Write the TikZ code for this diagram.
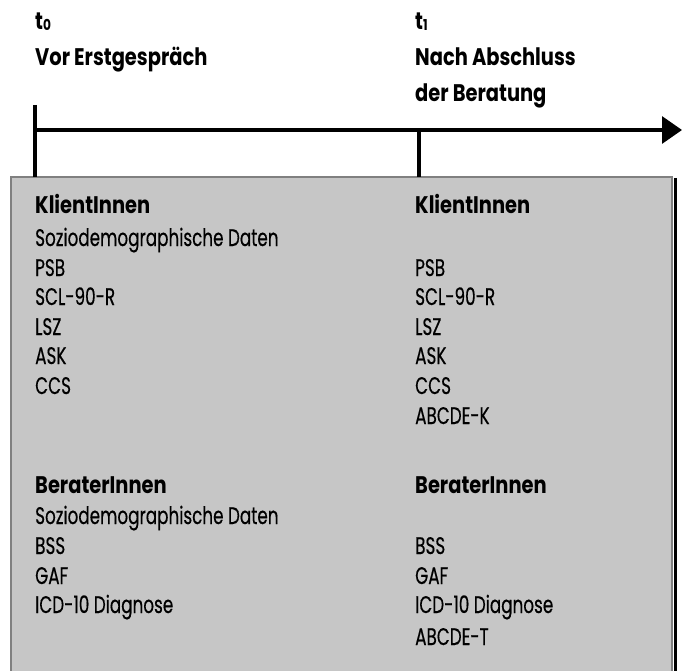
\documentclass[tikz,border=0pt]{standalone}
\usepackage{fontspec}
\setmainfont[FakeStretch=0.70, FakeBold=0.4, BoldFeatures={FakeStretch=0.81, FakeBold=0}]{Poppins}
\usetikzlibrary{arrows.meta}
\definecolor{boxfill}{HTML}{C6C6C6}
\definecolor{boxline}{HTML}{808080}
\tikzset{
  txt/.style={anchor=base west, inner sep=0pt, font=\fontsize{24}{24}\selectfont},
  head/.style={txt, font=\fontsize{24}{24}\selectfont\bfseries},
  axis/.style={line width=3.2pt},
}
\newcommand{\tsub}[1]{t\raisebox{-0.5pt}{\fontsize{15}{15}\selectfont #1}}
\begin{document}
\begin{tikzpicture}[x=1pt,y=-1pt]
\useasboundingbox (0,0) rectangle (682,671);
\clip (0,0) rectangle (682,671);
% box with shadow
\draw[line width=3pt] (675.5,178) -- (675.5,690);
\draw[fill=boxfill, draw=boxline, line width=2pt] (11,177) rectangle (672,690);
% timeline
\coordinate (a0) at (35,105);
\coordinate (a1) at (35,177);
\coordinate (h0) at (35,130);
\coordinate (h1) at (682,130);
\coordinate (b0) at (419,130);
\coordinate (b1) at (419,177);
\draw[axis] (a0) -- (a1);
\draw[axis] (b0) -- (b1);
\draw[axis, -{Triangle[length=20pt,width=27pt]}] (h0) -- (h1);
% top labels
\node[head] (t0) at (35,30) {\tsub{0}};
\node[head] (t0l) at (35,66) {Vor Erstgespräch};
\node[head] (t1) at (415,30) {\tsub{1}};
\node[head] (t1l) at (415,66) {Nach Abschluss};
\node[head] (t1m) at (415,102) {der Beratung};
% left column
\node[head] (lk) at (35,213) {KlientInnen};
\node[txt] (ls1) at (35,246) {Soziodemographische Daten};
\node[txt] (lpsb) at (35,276) {PSB};
\node[txt] (lscl) at (35,305) {SCL-90-R};
\node[txt] (llsz) at (35,335) {LSZ};
\node[txt] (lask) at (35,364) {ASK};
\node[txt] (lccs) at (35,394) {CCS};
\node[head] (lb) at (35,493) {BeraterInnen};
\node[txt] (ls2) at (35,524) {Soziodemographische Daten};
\node[txt] (lbss) at (35,554) {BSS};
\node[txt] (lgaf) at (35,584) {GAF};
\node[txt] (licd) at (35,613) {ICD-10 Diagnose};
% right column
\node[head] (rk) at (415,213) {KlientInnen};
\node[txt] (rpsb) at (415,276) {PSB};
\node[txt] (rscl) at (415,305) {SCL-90-R};
\node[txt] (rlsz) at (415,335) {LSZ};
\node[txt] (rask) at (415,364) {ASK};
\node[txt] (rccs) at (415,394) {CCS};
\node[txt] (rabk) at (415,424) {ABCDE-K};
\node[head] (rb) at (415,493) {BeraterInnen};
\node[txt] (rbss) at (415,554) {BSS};
\node[txt] (rgaf) at (415,584) {GAF};
\node[txt] (ricd) at (415,613) {ICD-10 Diagnose};
\node[txt] (rabt) at (415,645) {ABCDE-T};
\end{tikzpicture}
\end{document}
